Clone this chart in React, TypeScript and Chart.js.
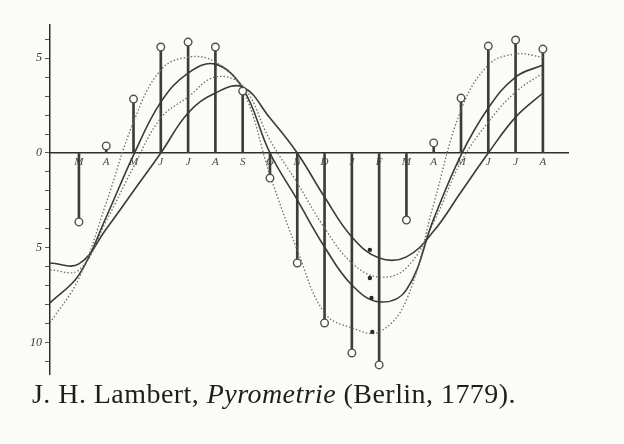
import React, { useEffect, useRef } from "react";
import { Chart, registerables } from "chart.js";

Chart.register(...registerables);

// Month letters under the stems (März ... August of the following year)
const monthLabels = ["M", "A", "M", "J", "J", "A", "S", "O", "N", "D", "J", "F", "M", "A", "M", "J", "J", "A"];
// Stem positions (months)
const stemPositions = [1, 2, 3, 4, 5, 6, 7, 8, 9, 10, 11, 12, 13, 14, 15, 16, 17, 18];
// Observed monthly values (stems with circles)
const observed = [-3.63, 0.37, 2.84, 5.58, 5.84, 5.58, 3.26, -1.32, -5.79, -8.95, -10.53, -11.16, -3.53, 0.53, 2.89, 5.63, 5.95, 5.47];

// Curve sample positions (axis start, then each month)
const curveX = [-0.06, 1, 2, 3, 4, 5, 6, 7, 8, 9, 10, 11, 12, 13, 14, 15, 16, 17, 18];
// Curve 4 (dotted, largest swing)
const curveDotOuter = [-8.95, -6.6, -2.63, 1.63, 4.37, 5.05, 4.79, 3.32, -1.16, -5.11, -8.42, -9.21, -9.42, -7.74, -2.68, 2.26, 4.63, 5.21, 5.05];
// Curve 3 (solid)
const curveSolidOuter = [-7.89, -6.42, -3.37, -0.11, 2.68, 4.21, 4.68, 3.42, 0, -2.47, -4.95, -6.95, -7.84, -7.21, -3.47, -0.11, 2.37, 4.0, 4.63];
// Curve 2 (dotted)
const curveDotInner = [-6.16, -6.16, -3.58, -0.74, 1.84, 2.95, 4.0, 3.53, 0.68, -1.58, -3.95, -5.79, -6.53, -6.05, -3.63, -0.47, 1.63, 3.21, 4.21];
// Curve 1 (solid, smallest swing)
const curveSolidInner = [-5.79, -5.84, -4.0, -2.0, 0, 2.11, 3.16, 3.47, 1.84, 0, -2.32, -4.42, -5.53, -5.47, -4.11, -2.05, 0, 1.89, 3.16];

// Small curve-number marks near the winter minimum
const curveMarkX = [11.66, 11.66, 11.72, 11.75];
const curveMarkY = [-5.1, -6.58, -7.63, -9.42];

// Y axis
const yMin = -11.68;
const yMax = 6.74;
const yTickValues = [-11, -10, -9, -8, -7, -6, -5, -4, -3, -2, -1, 0, 1, 2, 3, 4, 5, 6];
const yTickText: Record<string, string> = { "5": "5", "0": "0", "-5": "5", "-10": "10" };

export default function App() {
  const ref = useRef<HTMLCanvasElement>(null);

  useEffect(() => {
    const canvas = ref.current;
    if (!canvas) return;
    const xy = (xs: number[], ys: number[]) => xs.map((x, i) => ({ x, y: ys[i] }));

    const chart = new Chart(canvas, {
      type: "line",
      data: {
        datasets: [
          {
            type: "bar",
            data: xy(stemPositions, observed),
            backgroundColor: "#3c3c3c",
            barThickness: 2,
            grouped: false,
            order: 5,
          } as any,
          {
            data: xy(curveX, curveDotOuter),
            borderColor: "#6e6e6e",
            borderWidth: 1.3,
            borderDash: [1.5, 2],
            pointRadius: 0,
            tension: 0.4,
            fill: false,
            order: 3,
          },
          {
            data: xy(curveX, curveSolidOuter),
            borderColor: "#3a3a3a",
            borderWidth: 1.6,
            pointRadius: 0,
            tension: 0.4,
            fill: false,
            order: 3,
          },
          {
            data: xy(curveX, curveDotInner),
            borderColor: "#6e6e6e",
            borderWidth: 1.3,
            borderDash: [1.5, 2],
            pointRadius: 0,
            tension: 0.4,
            fill: false,
            order: 3,
          },
          {
            data: xy(curveX, curveSolidInner),
            borderColor: "#3a3a3a",
            borderWidth: 1.6,
            pointRadius: 0,
            tension: 0.4,
            fill: false,
            order: 3,
          },
          {
            data: xy(curveMarkX, curveMarkY),
            showLine: false,
            pointRadius: 2.2,
            pointBackgroundColor: "#2a2a2a",
            pointBorderColor: "#2a2a2a",
            pointBorderWidth: 0,
            order: 2,
          },
          {
            data: xy(stemPositions, observed),
            showLine: false,
            pointRadius: 3.8,
            pointBackgroundColor: "#fbfbf8",
            pointBorderColor: "#505050",
            pointBorderWidth: 1.4,
            order: 1,
          },
        ],
      },
      options: {
        responsive: false,
        animation: false,
        events: [],
        layout: { padding: { left: 0, top: 25, right: 56, bottom: 10 } },
        plugins: {
          legend: { display: false },
          tooltip: { enabled: false },
          title: { display: false },
        },
        scales: {
          x: {
            type: "linear",
            min: -0.06,
            max: 18.92,
            position: { y: 0 } as any,
            offset: false,
            grid: { display: true, drawOnChartArea: false, drawTicks: false, color: "#333" },
            border: { display: true, color: "#2e2e2e", width: 1.5 },
            afterBuildTicks: (scale: any) => {
              scale.ticks = stemPositions.map((v) => ({ value: v }));
            },
            afterFit: (scale: any) => {
              scale.height = 0;
            },
            ticks: {
              autoSkip: false,
              maxRotation: 0,
              padding: 3,
              color: "#4a4a4a",
              font: { family: "'Liberation Serif', serif", style: "italic", size: 11 },
              callback: (_v: any, i: number) => monthLabels[i],
            },
          },
          y: {
            type: "linear",
            min: yMin,
            max: yMax,
            position: "left",
            grid: { display: true, drawOnChartArea: false, drawTicks: true, tickLength: 5, color: "#555", lineWidth: 1 },
            border: { display: true, color: "#2e2e2e", width: 1.5 },
            afterBuildTicks: (scale: any) => {
              scale.ticks = yTickValues.map((v) => ({ value: v }));
            },
            afterFit: (scale: any) => {
              scale.width = 50;
            },
            ticks: {
              autoSkip: false,
              padding: 3,
              color: "#333",
              font: { family: "'Liberation Serif', serif", style: "italic", size: 12 },
              callback: (v: any) => yTickText[String(v)] ?? "",
            },
          },
        },
      },
    });
    return () => chart.destroy();
  }, []);

  return (
    <div
      style={{
        position: "fixed",
        left: 0,
        top: 0,
        width: 624,
        height: 444,
        background: "#fbfbf8",
        overflow: "hidden",
      }}
    >
      <canvas
        ref={ref}
        width={624}
        height={385}
        style={{ position: "absolute", left: 0, top: 0, width: 624, height: 385, display: "block" }}
      />
      <div
        style={{
          position: "absolute",
          left: 32,
          top: 379,
          fontFamily: "'Liberation Serif', serif",
          fontSize: 28,
          letterSpacing: "0.45px",
          color: "#1e1e1e",
          whiteSpace: "nowrap",
          lineHeight: "30px",
        }}
      >
        J. H. Lambert, <i>Pyrometrie</i> (Berlin, 1779).
      </div>
    </div>
  );
}
